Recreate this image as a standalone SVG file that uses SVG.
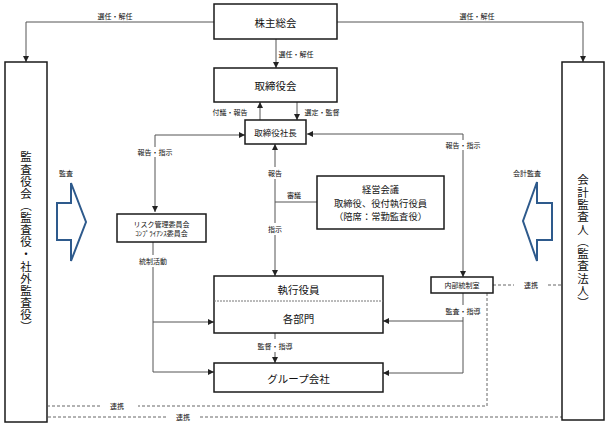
<svg xmlns="http://www.w3.org/2000/svg" width="609" height="427" viewBox="0 0 609 427">
<defs>
<marker id="ah" markerUnits="userSpaceOnUse" markerWidth="6" markerHeight="6" refX="6" refY="3" orient="auto">
<path d="M0,0 L6,3 L0,6 z" fill="#222"/>
</marker>
<style>
text{font-family:"Noto Sans CJK JP","Liberation Sans",sans-serif;fill:#111;text-anchor:middle;dominant-baseline:central}
.box{fill:#fff;stroke:#1a1a1a;stroke-width:1.5}
.ln{fill:none;stroke:#555;stroke-width:1}
.ar{fill:none;stroke:#555;stroke-width:1;marker-end:url(#ah)}
.ds{fill:none;stroke:#666;stroke-width:1;stroke-dasharray:3,2}
.big{fill:#fff;stroke:#2E5A8C;stroke-width:2}
.m{font-size:10.5px}
.k{font-size:9.3px}
.s{font-size:7px}
.v{font-size:11.5px;writing-mode:vertical-rl;text-anchor:start}
</style>
</defs>
<rect width="609" height="427" fill="#fff"/>

<g id="connectors">
<path class="ar" d="M214,22 L26,22 L26,62"/>
<path class="ar" d="M337,22 L583,22 L583,62"/>
<path class="ar" d="M276,39 L276,68"/>
<path class="ar" d="M260,120 L260,102"/>
<path class="ar" d="M297,102 L297,120"/>
<path class="ar" d="M155,147 L155,135 L245,135"/>
<path class="ar" d="M155,157 L155,212"/>
<path class="ar" d="M463,140 L463,134 L307,134"/>
<path class="ar" d="M463,150 L463,277"/>
<path class="ar" d="M275,167 L275,144"/>
<path class="ln" d="M275,179 L275,223"/>
<path class="ar" d="M275,235 L275,276"/>
<path class="ln" d="M275,202 L317,202"/>
<path class="ln" d="M153,242 L153,255"/>
<path class="ln" d="M153,267 L153,372"/>
<path class="ar" d="M153,372 L214,372"/>
<path class="ar" d="M153,322 L214,322"/>
<path class="ln" d="M463,293 L463,305"/>
<path class="ln" d="M463,317 L463,373"/>
<path class="ar" d="M463,373 L383,373"/>
<path class="ar" d="M463,321 L383,321"/>
<path class="ln" d="M275,333 L275,339"/>
<path class="ar" d="M275,352 L275,363"/>
<path class="ds" d="M487,293 L487,406 L138,406"/>
<path class="ds" d="M100,406 L48,406"/>
<path class="ds" d="M48,417 L167,417"/>
<path class="ds" d="M200,417 L562,417"/>
<path class="ds" d="M493,285 L514,285"/>
<path class="ds" d="M548,285 L562,285"/>
<text class="s" x="115" y="16">選任・解任</text>
<text class="s" x="477" y="16">選任・解任</text>
<text class="s" x="296" y="54">選任・解任</text>
<text class="s" x="230" y="112">付議・報告</text>
<text class="s" x="322" y="112">選定・監督</text>
<text class="s" x="155" y="152">報告・指示</text>
<text class="s" x="463" y="145">報告・指示</text>
<text class="s" x="275" y="173">報告</text>
<text class="s" x="294" y="195">審議</text>
<text class="s" x="275" y="229">指示</text>
<text class="s" x="153" y="261">統制活動</text>
<text class="s" x="275" y="346">監督・指導</text>
<text class="s" x="463" y="311">監査・指導</text>
<text class="s" x="117" y="406">連携</text>
<text class="s" x="183" y="417">連携</text>
<text class="s" x="531" y="285">連携</text>
<text class="s" x="66" y="173">監査</text>
<text class="s" x="527" y="173">会計監査</text>
</g>

<g id="audit-arrow-left">
<polygon class="big" points="57,203 71,203 71,183 86,222 71,261 71,240 57,240"/>
</g>
<g id="audit-arrow-right">
<polygon class="big" points="552,203 537,203 537,182 523,221 537,261 537,240 552,240"/>
</g>

<g id="shareholders">
<rect class="box" x="214" y="4" width="123" height="35"/>
<text class="m" x="275.5" y="22">株主総会</text>
</g>
<g id="board">
<rect class="box" x="214" y="68" width="123" height="34"/>
<text class="m" x="275.5" y="85">取締役会</text>
</g>
<g id="president">
<rect class="box" x="245" y="120" width="61" height="24"/>
<text style="font-size:8.5px" x="275.5" y="132">取締役社長</text>
</g>
<g id="auditors-board">
<rect class="box" x="5" y="62" width="42" height="360"/>
<text class="v" x="26" y="151.25" style="letter-spacing:0.64px">監査役会（監査役・社外監査役）</text>
</g>
<g id="accounting-auditor">
<rect class="box" x="562" y="62" width="42" height="358"/>
<text class="v" x="583" y="174.25" style="letter-spacing:0.8px">会計監査人（監査法人）</text>
</g>
<g id="risk">
<rect class="box" x="117" y="214" width="89" height="28"/>
<text class="s" x="161.5" y="224">リスク管理委員会<tspan x="161.5" dy="9">ｺﾝﾌﾟﾗｲｱﾝｽ委員会</tspan></text>
</g>
<g id="management-meeting">
<rect class="box" x="317" y="176" width="127" height="53"/>
<text class="k" x="380.5" y="189">経営会議<tspan x="380.5" dy="13.5">取締役、役付執行役員</tspan><tspan x="380.5" dy="13.5">（陪席：常勤監査役）</tspan></text>
</g>
<g id="executives">
<rect class="box" x="214" y="276" width="169" height="57"/>
<line x1="214" y1="301" x2="383" y2="301" stroke="#777" stroke-width="1" stroke-dasharray="2,1"/>
<text class="m" x="298.5" y="289">執行役員</text>
<text class="m" x="298.5" y="318">各部門</text>
</g>
<g id="group">
<rect class="box" x="214" y="363" width="169" height="29"/>
<text class="m" x="298.5" y="378">グループ会社</text>
</g>
<g id="internal-control">
<rect class="box" x="431" y="277" width="62" height="16"/>
<text class="s" x="462" y="285">内部統制室</text>
</g>
</svg>
